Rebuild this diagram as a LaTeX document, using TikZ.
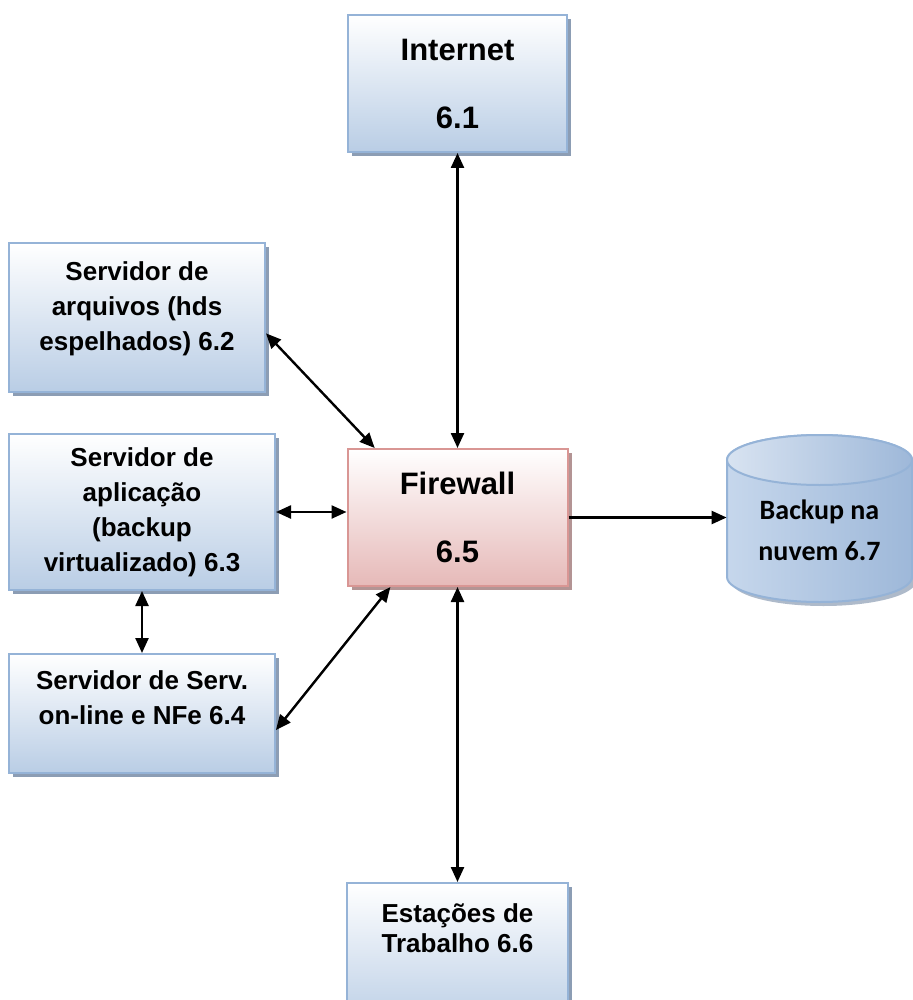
\documentclass[tikz,border=0pt]{standalone}
\usepackage{fontspec}
\setmainfont{Liberation Sans}
\newfontfamily\cylfont{Carlito}
\usetikzlibrary{arrows.meta,shadows}
\definecolor{boxline}{HTML}{95B3D7}
\definecolor{boxfill}{HTML}{B9CDE5}
\definecolor{boxshade}{HTML}{8C9DB4}
\definecolor{fwline}{HTML}{D99694}
\definecolor{fwfill}{HTML}{E6B9B8}
\definecolor{fwshade}{HTML}{B39494}
\definecolor{cylleft}{HTML}{C6D7EC}
\definecolor{cylmid}{HTML}{D8E3F1}
\definecolor{cylright}{HTML}{9EB8D9}
\newcommand{\padbelow}[1]{\rule[-#1]{0pt}{#1}}
\begin{document}
\begin{tikzpicture}
      [x=0.5pt,y=-0.5pt,
      >={Triangle[length=7.5pt,width=6.5pt]},
      conn/.style={line width=1.2pt},
      bluebox/.style={draw=boxline,line width=1pt,top color=white,bottom color=boxfill,
        drop shadow={shadow xshift=2pt,shadow yshift=-2pt,fill=boxshade,opacity=1},
        align=center,inner sep=2pt,font=\bfseries\fontsize{13}{17.5}\selectfont},
      bigbox/.style={bluebox,font=\bfseries\fontsize{15.5}{34}\selectfont},
      fwbox/.style={bigbox,draw=fwline,bottom color=fwfill,
        drop shadow={shadow xshift=2pt,shadow yshift=-2pt,fill=fwshade,opacity=1}},
      cylbody/.style={left color=cylleft,middle color=cylmid,right color=cylright,draw=boxline,line width=1pt}]
      \useasboundingbox (0,0) rectangle (913,1000);
      \node[bigbox,minimum width=109.5pt,minimum height=68.5pt] (inet) at (457.5,83.5) {Internet\\6.1};
      \node[fwbox,minimum width=110pt,minimum height=68.5pt] (fw) at (457.5,517.5) {Firewall\\6.5};
      \node[bluebox,minimum width=128pt,minimum height=74.5pt] (arq) at (137,317.5)
        {Servidor de\\arquivos (hds\\espelhados) 6.2\padbelow{11pt}};
      \node[bluebox,minimum width=133pt,minimum height=78pt] (apl) at (142,512)
        {Servidor de\\aplicação\\(backup\\virtualizado) 6.3};
      \node[bluebox,minimum width=133pt,minimum height=59.5pt] (serv) at (142,713.5)
        {Servidor de Serv.\\on-line e NFe 6.4\padbelow{16pt}};
      \node[bluebox,minimum width=110.5pt,minimum height=73.5pt,
        font=\bfseries\fontsize{13}{15}\selectfont] (est) at (457.5,956.5)
        {Estações de\\Trabalho 6.6\padbelow{28pt}};
      \fill[boxshade!70] (731,464) -- (731,581) arc[start angle=180,end angle=360,x radius=46.25pt,y radius=12.5pt]
        -- (916,464) -- cycle;
      \shadedraw[cylbody] (727,460) -- (727,577) arc[start angle=180,end angle=360,x radius=46.25pt,y radius=12.5pt]
        -- (912,460) arc[start angle=0,end angle=180,x radius=46.25pt,y radius=12.5pt];
      \shadedraw[cylbody,left color=cylmid,middle color=cylleft,right color=cylright] (819.5,460)
        ellipse [x radius=46.25pt,y radius=12.5pt];
      \node[font=\cylfont\bfseries\fontsize{14}{20.5}\selectfont,align=center,minimum width=92.5pt,inner sep=0pt]
        (bkp) at (819.5,530) {Backup na\\nuvem 6.7};
      \draw[<->,conn] (inet.south) -- (fw.north);
      \draw[<->,conn] (arq.-7) -- (fw.140);
      \draw[<->,conn] (apl.east) -- (apl.east -| fw.west);
      \draw[<->,conn] (apl.south) -- (serv.north);
      \draw[<->,conn] (serv.-7) -- (fw.226);
      \draw[<->,conn] (fw.south) -- (est.north);
      \draw[->,conn] (fw.east) -- (fw.east -| bkp.west);
\end{tikzpicture}
\end{document}
